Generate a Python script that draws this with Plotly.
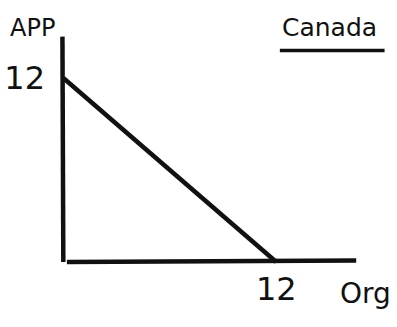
import plotly.graph_objects as go

# Production possibilities frontier for Canada: apples vs. oranges
org = [0, 12]
app = [12, 0]
x_ticks = [12]
x_tick_labels = ["12"]
y_ticks = [12]
y_tick_labels = ["12"]

INK = "#111111"
FONT = "DejaVu Sans"

fig = go.Figure()

fig.add_trace(go.Scatter(
    x=org, y=app, mode="lines",
    line=dict(color=INK, width=4.5),
    hoverinfo="skip", showlegend=False,
))

# Hand-drawn axes
fig.add_shape(type="line", x0=-0.05, y0=14.7, x1=0.0, y1=0.0,
              line=dict(color=INK, width=4.5))
fig.add_shape(type="line", x0=0.2, y0=0.0, x1=16.5, y1=0.1,
              line=dict(color=INK, width=4.5))

fig.update_xaxes(
    range=[-0.3, 18.8], tickvals=x_ticks, ticktext=x_tick_labels,
    showgrid=False, zeroline=False, showline=False, ticks="",
    tickfont=dict(family=FONT, size=32, color=INK),
    automargin=False, fixedrange=True,
)
fig.update_yaxes(
    range=[-0.33, 17.09], tickvals=y_ticks, ticktext=y_tick_labels,
    showgrid=False, zeroline=False, showline=False, ticks="",
    tickfont=dict(family=FONT, size=32, color=INK),
    ticklabelstandoff=12,
    automargin=False, fixedrange=True,
)

# Axis titles (placed in the margins) and heading
fig.add_annotation(text="APP", xref="paper", yref="paper", x=-0.074, y=0.895,
                   xanchor="center", yanchor="middle",
                   showarrow=False, font=dict(family=FONT, size=24, color=INK))
fig.add_annotation(text="Org", xref="paper", yref="paper", x=0.906, y=-0.10,
                   xanchor="center", yanchor="middle",
                   showarrow=False, font=dict(family=FONT, size=28, color=INK))
fig.add_annotation(text="Canada", xref="x", yref="y", x=15.0, y=15.3,
                   showarrow=False, font=dict(family=FONT, size=25, color=INK))
fig.add_shape(type="line", x0=12.2, y0=13.8, x1=18.1, y1=13.8,
              line=dict(color=INK, width=3.5))

fig.update_layout(
    width=397, height=327,
    margin=dict(l=58, r=0, t=0, b=60),
    paper_bgcolor="white", plot_bgcolor="white",
)

fig.write_html("out.html")
